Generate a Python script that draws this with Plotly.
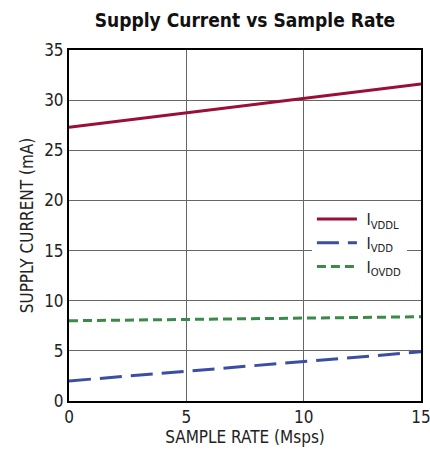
import plotly.graph_objects as go

x_rate = [0, 15]
i_vddl = [27.3, 31.6]
i_vdd = [2.0, 4.9]
i_ovdd = [8.0, 8.4]
names = ["&nbsp;I<sub>VDDL</sub>", "&nbsp;I<sub>VDD</sub>", "&nbsp;I<sub>OVDD</sub>"]

FONT = "DejaVu Sans Condensed, Liberation Sans Narrow, sans-serif"

fig = go.Figure()
fig.add_trace(go.Scatter(x=x_rate, y=i_vddl, mode="lines", name=names[0],
                         line=dict(color="#9a0f35", width=3)))
fig.add_trace(go.Scatter(x=x_rate, y=i_vdd, mode="lines", name=names[1],
                         line=dict(color="#3a4fa3", width=3, dash="22px,9px")))
fig.add_trace(go.Scatter(x=x_rate, y=i_ovdd, mode="lines", name=names[2],
                         line=dict(color="#3a8a48", width=3, dash="9px,5px")))

fig.update_layout(
    width=430, height=460,
    margin=dict(l=69, r=9, t=50, b=59, autoexpand=False),
    paper_bgcolor="white", plot_bgcolor="white",
    font=dict(family=FONT, color="#222", size=16),
    title=dict(text="<b>Supply Current vs Sample Rate</b>", xref="paper", x=0.5, xanchor="center",
               yref="container", y=1 - 20 / 460, yanchor="middle",
               font=dict(size=19, family=FONT, color="#111")),
    showlegend=True,
    legend=dict(x=0.96, xanchor="right", y=0.45, yanchor="middle",
                bgcolor="white", borderwidth=0, font=dict(size=16, family=FONT),
                tracegroupgap=0, itemwidth=40),
    xaxis=dict(range=[0, 15], dtick=5, showgrid=True, gridcolor="#666", gridwidth=1,
               showline=True, linecolor="black", linewidth=2, mirror=True,
               ticks="", zeroline=False, automargin=False, ticklabeloverflow="allow",
               title=dict(text="SAMPLE RATE (Msps)", font=dict(size=17, family=FONT), standoff=4),
               tickfont=dict(size=17, family=FONT)),
    yaxis=dict(range=[0, 35], dtick=5, showgrid=True, gridcolor="#666", gridwidth=1,
               showline=True, linecolor="black", linewidth=2, mirror=True,
               ticks="", zeroline=False, automargin=False,
               title=dict(text="SUPPLY CURRENT (mA)", font=dict(size=17, family=FONT), standoff=6),
               tickfont=dict(size=17, family=FONT)),
)

fig.write_html("out.html", config={"displayModeBar": False},
               post_script="document.body.style.margin='0';document.body.style.padding='0';")
